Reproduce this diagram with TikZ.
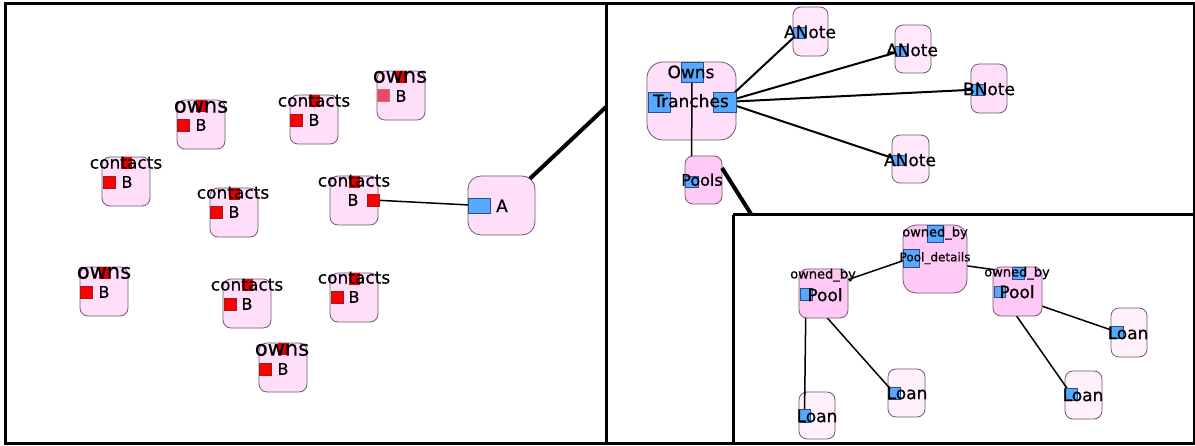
\documentclass[tikz,border=0pt]{standalone}
\usepackage{fontspec}
\setmainfont{DejaVu Sans}[BoldFont={DejaVu Sans},BoldFeatures={FakeBold=0.6}]
\usetikzlibrary{calc}
\definecolor{boxB}{RGB}{255,222,250}
\definecolor{boxN}{RGB}{255,232,251}
\definecolor{boxL}{RGB}{255,240,252}
\definecolor{boxD}{RGB}{255,200,245}
\definecolor{bord}{RGB}{110,90,110}
\definecolor{portR}{RGB}{255,0,0}
\definecolor{portT}{RGB}{225,0,0}
\definecolor{portP}{RGB}{240,70,100}
\definecolor{redB}{RGB}{150,30,30}
\definecolor{portB}{RGB}{85,170,255}
\definecolor{blueB}{RGB}{40,80,140}
\pgfdeclarelayer{bg}
\pgfdeclarelayer{edges}
\pgfsetlayers{bg,edges,main}
\newcommand\bx[6]{%
  \pgfmathsetmacro\bxw{(#5)-(#3)}\pgfmathsetmacro\bxh{(#6)-(#4)}%
  \pgfmathsetmacro\bxcx{((#3)+(#5))/2}\pgfmathsetmacro\bxcy{((#4)+(#6))/2}%
  \node[#2, minimum width=\bxw pt, minimum height=\bxh pt] (#1) at (\bxcx,\bxcy) {};}
\newcommand\Bbox[3]{\bx{#1}{lbox}{#2}{#3}{(#2)+48}{(#3)+49}%
  \bx{#1t}{tport}{(#2)+18.5}{(#3)+0.5}{(#2)+29.5}{(#3)+12}}
\newcommand\txl[5]{\node[lbl,font=\fontsize{#4pt}{#4pt}\selectfont\bfseries,anchor=base] (#1) at (#2,{(#3)+0.27*(#4)}) {#5};}
\newcommand\txc[5]{\node[lbl,font=\fontsize{#4pt}{#4pt}\selectfont\bfseries,anchor=base] (#1) at (#2,{(#3)+0.36*(#4)}) {#5};}
\begin{document}
\begin{tikzpicture}[x=1pt,y=-1pt,
  box/.style={rectangle, draw=bord, line width=0.8pt, inner sep=0pt, outer sep=0pt, rounded corners=8pt},
  lbox/.style={box, fill=boxB},
  nbox/.style={box, fill=boxN},
  loanbox/.style={box, fill=boxL},
  dbox/.style={box, fill=boxD},
  bigbox/.style={box, fill=boxB, rounded corners=16pt},
  pdbox/.style={box, fill=boxD, rounded corners=13pt},
  tport/.style={rectangle, fill=portT, inner sep=0pt, outer sep=0pt},
  rport/.style={rectangle, draw=redB, line width=0.6pt, fill=portR, inner sep=0pt, outer sep=0pt},
  pport/.style={rectangle, draw=redB!60, line width=0.6pt, fill=portP, inner sep=0pt, outer sep=0pt},
  bport/.style={rectangle, draw=blueB, line width=0.6pt, fill=portB, inner sep=0pt, outer sep=0pt},
  lbl/.style={inner sep=0pt, outer sep=0pt, text=black},
  edge/.style={line width=1.5pt, black},
  fedge/.style={line width=2pt, black},
  zoomline/.style={line width=4pt, black},
  frame/.style={line width=3pt, black}]
\useasboundingbox (0,0) rectangle (1195,446);

% ---------- light boxes (bottom layer)
\begin{pgfonlayer}{bg}
\fill[white] (0,0) rectangle (1195,446);
\Bbox{b1}{177}{100}
\Bbox{b2}{290}{95}
\Bbox{b3}{377}{71}
\Bbox{b4}{102}{157}
\Bbox{b5}{210}{188}
\Bbox{b6}{330}{176}
\Bbox{b8}{80}{267}
\Bbox{b9}{223}{279}
\Bbox{b10}{330}{273}
\Bbox{b11}{259}{343}
\bx{A}{lbox,rounded corners=13pt}{468}{176}{535}{235}
\bx{tr}{bigbox}{647}{62}{736}{140}
\bx{an1}{nbox}{793}{7}{828}{56}
\bx{an2}{nbox}{895}{25}{931}{73}
\bx{bn}{lbox}{971}{64}{1007}{113}
\bx{an3}{nbox}{892}{135}{929}{183}
\bx{lo1}{loanbox}{799}{392}{835}{439}
\bx{lo2}{loanbox}{888}{369}{925}{417}
\bx{lo3}{loanbox}{1111}{308}{1147}{357}
\bx{lo4}{loanbox}{1065}{371}{1102}{419}
\end{pgfonlayer}

% ---------- dark boxes
\bx{pools}{dbox}{685}{156}{722}{204}
\bx{pd}{pdbox}{903}{225}{967}{293}
\bx{lpool}{dbox}{799}{269}{848}{318}
\bx{rpool}{dbox}{993}{267}{1042}{316}

% ---------- ports
\bx{b1p}{rport}{177}{119}{189}{131}
\bx{b2p}{rport}{290}{114}{302}{126}
\bx{b3p}{pport}{377}{89}{389}{101}
\bx{b4p}{rport}{103}{176}{115}{188}
\bx{b5p}{rport}{210}{206}{222}{218}
\bx{b6p}{rport}{367}{194}{379}{206}
\bx{b8p}{rport}{80}{286}{92}{298}
\bx{b9p}{rport}{224}{298}{236}{310}
\bx{b10p}{rport}{331}{291}{343}{303}
\bx{b11p}{rport}{259}{363}{271}{375}
\bx{Ap}{bport}{468}{198}{490}{213}
\bx{trT}{bport}{681}{62}{703}{82}
\bx{trL}{bport}{648}{92}{670}{112}
\bx{trR}{bport}{713}{92}{736}{112}
\bx{poolsp}{bport}{685}{176}{698}{187}
\bx{an1p}{bport}{793}{27}{805}{38}
\bx{an2p}{bport}{895}{46}{907}{56}
\bx{bnp}{bport}{971}{84}{984}{95}
\bx{an3p}{bport}{892}{155}{905}{165}
\bx{pdT}{bport}{927}{225}{943}{242}
\bx{pdL}{bport}{903}{249}{919}{267}
\bx{lpoolp}{bport}{800}{288}{812}{300}
\bx{rpoolT}{bport}{1012}{267}{1024}{279}
\bx{rpoolp}{bport}{994}{286}{1005}{297}
\bx{lo1p}{bport}{799}{409}{810}{422}
\bx{lo2p}{bport}{888}{387}{900}{399}
\bx{lo3p}{bport}{1111}{326}{1123}{338}
\bx{lo4p}{bport}{1065}{388}{1077}{400}

% ---------- texts
\txl{b1l}{201}{107}{21}{owns}
\txc{b1b}{201}{125}{16}{B}
\txl{b2l}{314}{102}{17}{contacts}
\txc{b2b}{314}{120}{16}{B}
\txl{b3l}{400}{77}{21}{owns}
\txc{b3b}{401}{96}{16}{B}
\txl{b4l}{126}{164}{17}{contacts}
\txc{b4b}{127}{182}{16}{B}
\txl{b5l}{233}{194}{17}{contacts}
\txc{b5b}{234}{212}{16}{B}
\txl{b6l}{354}{182}{17}{contacts}
\txc{b6b}{353}{200}{16}{B}
\txl{b8l}{104}{273}{21}{owns}
\txc{b8b}{104}{292}{16}{B}
\txl{b9l}{247}{286}{17}{contacts}
\txc{b9b}{247}{304}{16}{B}
\txl{b10l}{354}{279}{17}{contacts}
\txc{b10b}{354}{297}{16}{B}
\txl{b11l}{282}{350}{21}{owns}
\txc{b11b}{283}{369}{16}{B}
\txc{Al}{502}{206}{17}{A}
\txc{trOl}{691}{72}{17}{Owns}
\txc{trl}{691}{101}{17}{Tranches}
\txc{poolsl}{702}{180}{16}{Pools}
\txc{an1l}{810}{32}{17}{ANote}
\txc{an2l}{912}{50}{17}{ANote}
\txc{bnl}{989}{89}{17}{BNote}
\txc{an3l}{910}{160}{17}{ANote}
\txl{pdo}{935}{233}{13}{owned\_by}
\txc{pdl}{935}{257}{12}{Pool\_details}
\txl{lpo}{823}{275}{13}{owned\_by}
\txc{lpl}{825}{295}{17}{Pool}
\txl{rpo}{1017}{273}{13}{owned\_by}
\txc{rpl}{1017}{292}{17}{Pool}
\txc{lo1l}{817}{416}{17}{Loan}
\txc{lo2l}{907}{393}{17}{Loan}
\txc{lo3l}{1128}{333}{17}{Loan}
\txc{lo4l}{1083}{395}{17}{Loan}

% ---------- connectors
\begin{pgfonlayer}{edges}
\draw[edge] (b6p.center) -- (Ap.center);
\draw[edge] (trT.center) -- (poolsp.center);
\draw[fedge] (trR.center) -- (an1p.center);
\draw[fedge] (trR.center) -- (an2p.center);
\draw[fedge] (trR.center) -- (bnp.center);
\draw[fedge] (trR.center) -- (an3p.center);
\draw[edge] (pdL.center) -- (lpoolp.center);
\draw[edge] (pdL.center) -- (rpoolT.center);
\draw[edge] (lpoolp.center) -- (lo1p.center);
\draw[edge] (lpoolp.center) -- (lo2p.center);
\draw[edge] (rpoolp.center) -- (lo3p.center);
\draw[edge] (rpoolp.center) -- (lo4p.center);
\end{pgfonlayer}

% ---------- frames and zoom lines
\coordinate (zA) at (606,107);
\coordinate (zP) at (751,214);
\draw[zoomline, shorten <=-4pt] (A) -- (zA);
\draw[zoomline] ([yshift=12pt]pools.east) -- (zP);
\draw[frame] (5,3.5) rectangle (1194,443);
\draw[frame] (606,3.5) -- (606,443);
\draw[frame] (733,215) -- (1195,215);
\draw[frame] (733,215) -- (733,443);
\end{tikzpicture}
\end{document}
